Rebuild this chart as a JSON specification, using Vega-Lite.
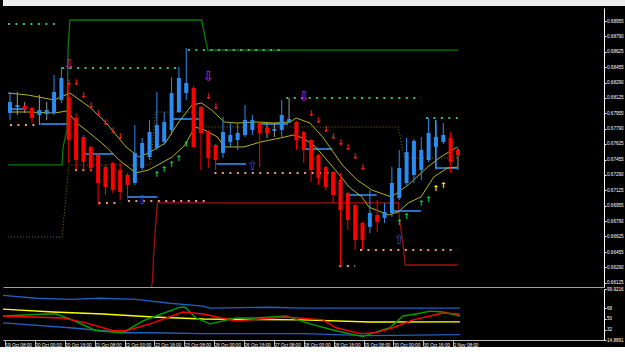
{
"$schema": "https://vega.github.io/schema/vega-lite/v6.json",
"background": "#000000",
"padding": 0,
"spacing": 2,
"bounds": "flush",
"config": {"view": {"stroke": null}, "font": "Liberation Sans", "axis": {"labelFont": "Liberation Sans", "grid": false}, "text": {"font": "Liberation Sans"}},
"datasets": {
"candles": [
{"i":0,"o":0.6796,"h":0.68187,"l":0.67884,"c":0.68079},
{"i":1,"o":0.68025,"h":0.68187,"l":0.67939,"c":0.68047},
{"i":2,"o":0.68036,"h":0.68079,"l":0.6796,"c":0.67993},
{"i":3,"o":0.68014,"h":0.68025,"l":0.67852,"c":0.67906},
{"i":4,"o":0.67939,"h":0.68155,"l":0.6783,"c":0.67993},
{"i":5,"o":0.67949,"h":0.68079,"l":0.67884,"c":0.67993},
{"i":6,"o":0.6796,"h":0.68371,"l":0.67939,"c":0.68187},
{"i":7,"o":0.68101,"h":0.68458,"l":0.68069,"c":0.68339},
{"i":8,"o":0.68133,"h":0.68285,"l":0.67419,"c":0.67668},
{"i":9,"o":0.67906,"h":0.6796,"l":0.67344,"c":0.67452},
{"i":10,"o":0.67701,"h":0.67722,"l":0.67344,"c":0.6743},
{"i":11,"o":0.67593,"h":0.67603,"l":0.67322,"c":0.67365},
{"i":12,"o":0.67506,"h":0.67528,"l":0.66965,"c":0.67202},
{"i":13,"o":0.67376,"h":0.67398,"l":0.67073,"c":0.6716},
{"i":14,"o":0.67419,"h":0.6743,"l":0.67095,"c":0.67127},
{"i":15,"o":0.67344,"h":0.67419,"l":0.67019,"c":0.67106},
{"i":16,"o":0.6729,"h":0.67311,"l":0.6703,"c":0.67182},
{"i":17,"o":0.67203,"h":0.6783,"l":0.67182,"c":0.67528},
{"i":18,"o":0.67365,"h":0.6769,"l":0.67344,"c":0.67636},
{"i":19,"o":0.67484,"h":0.67884,"l":0.67452,"c":0.67755},
{"i":20,"o":0.67582,"h":0.68187,"l":0.6756,"c":0.6783},
{"i":21,"o":0.67647,"h":0.67971,"l":0.67614,"c":0.67863},
{"i":22,"o":0.67776,"h":0.68349,"l":0.67722,"c":0.68176},
{"i":23,"o":0.67971,"h":0.68458,"l":0.6796,"c":0.68339},
{"i":24,"o":0.68176,"h":0.68663,"l":0.68101,"c":0.68285},
{"i":25,"o":0.6823,"h":0.68252,"l":0.67582,"c":0.67593},
{"i":26,"o":0.68025,"h":0.68036,"l":0.67344,"c":0.67744},
{"i":27,"o":0.67766,"h":0.67776,"l":0.67365,"c":0.67474},
{"i":28,"o":0.67614,"h":0.67625,"l":0.67344,"c":0.67452},
{"i":29,"o":0.67528,"h":0.67917,"l":0.67474,"c":0.67755},
{"i":30,"o":0.67647,"h":0.67863,"l":0.67593,"c":0.67722},
{"i":31,"o":0.67668,"h":0.67852,"l":0.6756,"c":0.67744},
{"i":32,"o":0.67722,"h":0.68047,"l":0.67701,"c":0.67884},
{"i":33,"o":0.67776,"h":0.67939,"l":0.67722,"c":0.67884},
{"i":34,"o":0.67852,"h":0.67863,"l":0.67376,"c":0.67744},
{"i":35,"o":0.67798,"h":0.67852,"l":0.6769,"c":0.67744},
{"i":36,"o":0.67766,"h":0.67852,"l":0.67701,"c":0.67787},
{"i":37,"o":0.67776,"h":0.68101,"l":0.67701,"c":0.67939},
{"i":38,"o":0.67863,"h":0.68122,"l":0.67852,"c":0.67895},
{"i":39,"o":0.67863,"h":0.67874,"l":0.6756,"c":0.67668},
{"i":40,"o":0.67755,"h":0.67766,"l":0.67419,"c":0.6756},
{"i":41,"o":0.67668,"h":0.67679,"l":0.67214,"c":0.67344},
{"i":42,"o":0.67506,"h":0.67517,"l":0.67182,"c":0.67257},
{"i":43,"o":0.67376,"h":0.67387,"l":0.67127,"c":0.6716},
{"i":44,"o":0.67322,"h":0.67333,"l":0.66987,"c":0.67073},
{"i":45,"o":0.67236,"h":0.67311,"l":0.66306,"c":0.66911},
{"i":46,"o":0.67095,"h":0.67106,"l":0.66695,"c":0.66803},
{"i":47,"o":0.66965,"h":0.66976,"l":0.66479,"c":0.66587},
{"i":48,"o":0.66771,"h":0.66782,"l":0.66479,"c":0.66587},
{"i":49,"o":0.66728,"h":0.67127,"l":0.66662,"c":0.66879},
{"i":50,"o":0.66857,"h":0.67019,"l":0.66673,"c":0.66782},
{"i":51,"o":0.66825,"h":0.66987,"l":0.66771,"c":0.6689},
{"i":52,"o":0.66879,"h":0.67376,"l":0.66836,"c":0.67203},
{"i":53,"o":0.67041,"h":0.6756,"l":0.67019,"c":0.67365},
{"i":54,"o":0.67203,"h":0.6769,"l":0.67182,"c":0.67538},
{"i":55,"o":0.6729,"h":0.67679,"l":0.67203,"c":0.67658},
{"i":56,"o":0.67344,"h":0.67701,"l":0.67236,"c":0.6756},
{"i":57,"o":0.67452,"h":0.67906,"l":0.6743,"c":0.67744},
{"i":58,"o":0.67593,"h":0.67852,"l":0.67344,"c":0.67701},
{"i":59,"o":0.67647,"h":0.67852,"l":0.67625,"c":0.67722},
{"i":60,"o":0.6769,"h":0.67755,"l":0.67311,"c":0.6743},
{"i":61,"o":0.6756,"h":0.67582,"l":0.67344,"c":0.67504}
],
"ma": [
{"s":"a","i":-0.27,"p":0.68176},{"s":"a","i":2.41,"p":0.68155},{"s":"a","i":6.02,"p":0.68101},{"s":"a","i":8.17,"p":0.68176},{"s":"a","i":10.84,"p":0.68025},{"s":"a","i":13.12,"p":0.67852},{"s":"a","i":15.8,"p":0.67593},{"s":"a","i":17.54,"p":0.67484},{"s":"a","i":18.88,"p":0.67528},{"s":"a","i":21.15,"p":0.67636},{"s":"a","i":22.89,"p":0.67852},{"s":"a","i":24.77,"p":0.68047},{"s":"a","i":26.1,"p":0.68068},{"s":"a","i":27.44,"p":0.67993},{"s":"a","i":29.18,"p":0.67863},{"s":"a","i":30.92,"p":0.67852},{"s":"a","i":33.6,"p":0.67863},{"s":"a","i":35.88,"p":0.67852},{"s":"a","i":38.15,"p":0.67863},{"s":"a","i":38.96,"p":0.67906},{"s":"a","i":40.83,"p":0.67852},{"s":"a","i":42.57,"p":0.67701},{"s":"a","i":45.25,"p":0.67398},{"s":"a","i":47.26,"p":0.67236},{"s":"a","i":49.26,"p":0.67127},{"s":"a","i":51.94,"p":0.67052},{"s":"a","i":54.22,"p":0.67182},{"s":"a","i":56.89,"p":0.67376},{"s":"a","i":58.63,"p":0.67484},{"s":"a","i":60.91,"p":0.67593},
{"s":"b","i":-0.27,"p":0.67971},{"s":"b","i":2.41,"p":0.67971},{"s":"b","i":6.02,"p":0.6796},{"s":"b","i":7.76,"p":0.67982},{"s":"b","i":9.1,"p":0.67852},{"s":"b","i":10.84,"p":0.67744},{"s":"b","i":13.12,"p":0.67593},{"s":"b","i":14.86,"p":0.67452},{"s":"b","i":17.14,"p":0.67311},{"s":"b","i":18.88,"p":0.67344},{"s":"b","i":22.09,"p":0.67484},{"s":"b","i":23.83,"p":0.67614},{"s":"b","i":25.17,"p":0.67809},{"s":"b","i":26.51,"p":0.67776},{"s":"b","i":28.25,"p":0.67701},{"s":"b","i":29.18,"p":0.67593},{"s":"b","i":31.86,"p":0.67593},{"s":"b","i":34.14,"p":0.67647},{"s":"b","i":36.81,"p":0.6769},{"s":"b","i":38.55,"p":0.67722},{"s":"b","i":39.89,"p":0.6769},{"s":"b","i":41.63,"p":0.67593},{"s":"b","i":44.31,"p":0.67344},{"s":"b","i":46.18,"p":0.6716},{"s":"b","i":47.92,"p":0.67052},{"s":"b","i":48.86,"p":0.66944},{"s":"b","i":51.54,"p":0.66857},{"s":"b","i":52.88,"p":0.6689},{"s":"b","i":54.22,"p":0.66987},{"s":"b","i":55.96,"p":0.67052},{"s":"b","i":57.7,"p":0.67268},{"s":"b","i":59.57,"p":0.67365},{"s":"b","i":60.91,"p":0.67376}
],
"channel": [
{"s":"grn","i":-0.27,"p":0.67398},{"s":"grn","i":7.1,"p":0.67398},{"s":"grn","i":7.23,"p":0.67593},{"s":"grn","i":7.76,"p":0.67776},{"s":"grn","i":7.9,"p":0.68641},{"s":"grn","i":8.17,"p":0.68966},{"s":"grn","i":26.1,"p":0.68966},{"s":"grn","i":26.91,"p":0.68641},{"s":"grn","i":61.04,"p":0.68641},
{"s":"red","i":19.28,"p":0.66078},{"s":"red","i":19.41,"p":0.66154},{"s":"red","i":19.54,"p":0.66403},{"s":"red","i":19.81,"p":0.66727},{"s":"red","i":20.08,"p":0.66987},{"s":"red","i":52.88,"p":0.66987},{"s":"red","i":53.01,"p":0.66836},{"s":"red","i":53.55,"p":0.66511},{"s":"red","i":53.82,"p":0.66316},{"s":"red","i":60.91,"p":0.66316},
{"s":"brn","i":-0.27,"p":0.66619},{"s":"brn","i":7.1,"p":0.66619},{"s":"brn","i":8.03,"p":0.67398},{"s":"brn","i":19.14,"p":0.67398},{"s":"brn","i":19.81,"p":0.67971},{"s":"brn","i":25.57,"p":0.67971},{"s":"brn","i":26.51,"p":0.67809},{"s":"brn","i":52.88,"p":0.67809},{"s":"brn","i":53.68,"p":0.67474},{"s":"brn","i":61.04,"p":0.67474}
],
"dots": [
{"t":"r","i":-0.27,"i2":6.16,"p":0.68923},{"t":"r","i":7.1,"i2":23.16,"p":0.68447},{"t":"r","i":24.23,"i2":36.95,"p":0.68641},{"t":"r","i":37.62,"i2":55.96,"p":0.68122},{"t":"r","i":56.63,"i2":61.04,"p":0.67906},
{"t":"s","i":0,"i2":3.35,"p":0.6783},{"t":"s","i":8.84,"i2":11.11,"p":0.67344},{"t":"s","i":12.05,"i2":15.13,"p":0.66987},{"t":"s","i":16.06,"i2":27.18,"p":0.67009},{"t":"s","i":27.84,"i2":43.91,"p":0.67311},{"t":"s","i":44.85,"i2":46.99,"p":0.66306},{"t":"s","i":47.66,"i2":60.91,"p":0.66479}
],
"stops": [
{"i":-0.27,"i2":2.14,"p":0.68003,"p2":0.68003},{"i":4.15,"i2":8.03,"p":0.67841,"p2":0.67841},{"i":10.04,"i2":14.06,"p":0.67517,"p2":0.67517},{"i":16.06,"i2":20.08,"p":0.67052,"p2":0.67052},{"i":22.22,"i2":26.1,"p":0.67895,"p2":0.67895},{"i":28.11,"i2":32.13,"p":0.67409,"p2":0.67409},{"i":34.14,"i2":37.88,"p":0.67841,"p2":0.67841},{"i":39.89,"i2":43.91,"p":0.67571,"p2":0.67571},{"i":45.92,"i2":49.93,"p":0.67073,"p2":0.67073},{"i":51.94,"i2":55.96,"p":0.669,"p2":0.669},{"i":57.97,"i2":60.91,"p":0.67365,"p2":0.67365},{"i":57.97,"i2":57.97,"p":0.67884,"p2":0.67365}
],
"arrows": [
{"k":"dn","i":8,"p":0.68285},{"k":"dn","i":9,"p":0.68285},{"k":"dn","i":10,"p":0.68144},{"k":"dn","i":11,"p":0.68036},{"k":"dn","i":12,"p":0.67949},{"k":"dn","i":13,"p":0.67852},{"k":"dn","i":14,"p":0.67766},{"k":"dn","i":15,"p":0.67701},{"k":"dn","i":27,"p":0.68133},{"k":"dn","i":28,"p":0.68025},{"k":"dn","i":41,"p":0.67949},{"k":"dn","i":42,"p":0.67874},{"k":"dn","i":43,"p":0.67776},{"k":"dn","i":44,"p":0.67701},{"k":"dn","i":45,"p":0.67636},{"k":"dn","i":46,"p":0.67582},{"k":"dn","i":47,"p":0.67484},{"k":"dn","i":48,"p":0.67365},
{"k":"up","i":20,"p":0.6729},{"k":"up","i":21,"p":0.67344},{"k":"up","i":22,"p":0.67398},{"k":"up","i":23,"p":0.67463},{"k":"up","i":24,"p":0.67614},{"k":"up","i":53,"p":0.66771},{"k":"up","i":54,"p":0.66836},{"k":"up","i":56,"p":0.66976},{"k":"up","i":57,"p":0.67019},
{"k":"upy","i":58,"p":0.67138},{"k":"upy","i":59,"p":0.67171},
{"k":"bigdn","i":8,"p":0.68479},{"k":"bigdn","i":27,"p":0.68349},{"k":"bigdn","i":40,"p":0.68133},
{"k":"bigup","i":18,"p":0.67019},{"k":"bigup","i":33,"p":0.67387},{"k":"bigup","i":53,"p":0.66587}
],
"levels": [
{"p":0.6875,"s":"dot"},{"p":0.685,"s":"dd"},{"p":0.6825,"s":"dot"},{"p":0.68,"s":"solid"},{"p":0.6775,"s":"dot"},{"p":0.675,"s":"dd"},{"p":0.6725,"s":"dot"},{"p":0.67,"s":"solid"},{"p":0.6675,"s":"dot"},{"p":0.665,"s":"dd"}
],
"last": [{"p":0.67504}],
"osclev": [{"v":68},{"v":50},{"v":32}],
"osc": [
{"s":"b1","i":-0.27,"v":89.3},{"s":"b1","i":4.15,"v":84.4},{"s":"b1","i":8.7,"v":82.7},{"s":"b1","i":12.72,"v":84.4},{"s":"b1","i":17.54,"v":82.7},{"s":"b1","i":22.09,"v":76.2},{"s":"b1","i":26.51,"v":71.3},{"s":"b1","i":27.44,"v":68.0},{"s":"b1","i":35.48,"v":69.6},{"s":"b1","i":39.89,"v":68.0},{"s":"b1","i":47.52,"v":68.0},{"s":"b1","i":60.91,"v":68.0},
{"s":"b2","i":-0.27,"v":43.5},{"s":"b2","i":8.7,"v":35.3},{"s":"b2","i":16.2,"v":27.1},{"s":"b2","i":19.81,"v":27.1},{"s":"b2","i":26.51,"v":25.5},{"s":"b2","i":39.89,"v":25.5},{"s":"b2","i":44.31,"v":23.8},{"s":"b2","i":48.86,"v":22.2},{"s":"b2","i":60.91,"v":23.8},
{"s":"s1","i":-0.27,"v":66.4},{"s":"s1","i":6.43,"v":61.5},{"s":"s1","i":13.12,"v":58.2},{"s":"s1","i":19.81,"v":53.3},{"s":"s1","i":26.51,"v":50.0},{"s":"s1","i":39.89,"v":48.4},{"s":"s1","i":48.86,"v":45.0},{"s":"s1","i":60.91,"v":45.1},
{"s":"s2","i":-0.27,"v":54.9},{"s":"s2","i":5.49,"v":58.2},{"s":"s2","i":6.83,"v":58.2},{"s":"s2","i":8.7,"v":50.0},{"s":"s2","i":12.18,"v":30.4},{"s":"s2","i":15.8,"v":27.1},{"s":"s2","i":18.47,"v":46.7},{"s":"s2","i":20.21,"v":54.9},{"s":"s2","i":23.43,"v":69.6},{"s":"s2","i":24.1,"v":69.6},{"s":"s2","i":25.57,"v":51.6},{"s":"s2","i":27.44,"v":41.8},{"s":"s2","i":30.92,"v":51.6},{"s":"s2","i":33.6,"v":51.6},{"s":"s2","i":37.62,"v":54.9},{"s":"s2","i":40.83,"v":41.8},{"s":"s2","i":44.31,"v":30.4},{"s":"s2","i":47.92,"v":20.5},{"s":"s2","i":50.2,"v":30.4},{"s":"s2","i":51.54,"v":35.3},{"s":"s2","i":53.28,"v":54.9},{"s":"s2","i":55.02,"v":58.2},{"s":"s2","i":56.89,"v":63.1},{"s":"s2","i":58.63,"v":61.5},{"s":"s2","i":60.91,"v":54.9},
{"s":"s3","i":-0.27,"v":54.9},{"s":"s3","i":7.76,"v":51.6},{"s":"s3","i":10.84,"v":43.5},{"s":"s3","i":14.46,"v":30.4},{"s":"s3","i":16.2,"v":30.4},{"s":"s3","i":19.81,"v":43.5},{"s":"s3","i":23.83,"v":61.5},{"s":"s3","i":26.51,"v":58.2},{"s":"s3","i":30.92,"v":46.7},{"s":"s3","i":37.62,"v":53.3},{"s":"s3","i":42.57,"v":48.4},{"s":"s3","i":44.31,"v":35.3},{"s":"s3","i":47.52,"v":25.5},{"s":"s3","i":49.67,"v":27.1},{"s":"s3","i":51.94,"v":35.3},{"s":"s3","i":54.62,"v":48.4},{"s":"s3","i":58.63,"v":59.8},{"s":"s3","i":60.91,"v":58.2}
]
},
"vconcat": [
{
"width": 625, "height": 6,
"view": {"fill": "#ececec", "stroke": null},
"data": {"values": []},
"mark": {"type": "rule"},
"encoding": {}
},
{
"width": 601, "height": 279,
"encoding": {
 "x": {"field": "i", "type": "quantitative", "title": null, "scale": {"domain": [-0.27, 80.2], "nice": false, "zero": false},
   "axis": {"labels": false, "ticks": false, "domain": true, "domainColor": "#a0a0a0", "grid": false}},
 "y": {"field": "p", "type": "quantitative", "title": null, "scale": {"domain": [0.66078, 0.69096], "nice": false, "zero": false},
   "axis": {"orient": "right", "values": [0.68955,0.6879,0.68625,0.68455,0.6829,0.68125,0.67955,0.6779,0.67625,0.67455,0.6729,0.67125,0.66955,0.6679,0.66625,0.66455,0.6629,0.66125], "format": ".5f", "labelOverlap": false, "tickSize": 2, "labelPadding": 0.5, "domainColor": "#ffffff", "tickColor": "#ffffff", "labelColor": "#ffffff", "labelFontSize": 4.6, "grid": false}}
},
"layer": [
 {"data": {"name": "levels"}, "mark": {"type": "rule", "color": "#8c8c8c", "strokeWidth": 1},
  "encoding": {"x": {"datum": 61.7}, "x2": {"datum": 80.1},
   "strokeDash": {"field": "s", "type": "nominal", "scale": {"domain": ["dot", "dd", "solid"], "range": [[1, 3], [6, 3, 1, 3], [1, 0]]}, "legend": null}}},
 {"data": {"name": "levels"}, "mark": {"type": "text", "color": "#a0a0a0", "fontSize": 4.6, "dy": 4, "baseline": "middle"},
  "encoding": {"x": {"datum": 68.7}, "text": {"field": "p", "type": "quantitative", "format": ".5f"}}},
 {"data": {"name": "last"}, "mark": {"type": "rule", "color": "#7a8898", "strokeWidth": 1},
  "encoding": {"x": {"datum": -0.27}, "x2": {"datum": 80.2}}},
 {"data": {"name": "channel"}, "transform": [{"filter": "datum.s == 'grn'"}], "mark": {"type": "line", "color": "#0a7a0a", "strokeWidth": 1.3}},
 {"data": {"name": "channel"}, "transform": [{"filter": "datum.s == 'red'"}], "mark": {"type": "line", "color": "#a01010", "strokeWidth": 1.3}},
 {"data": {"name": "channel"}, "transform": [{"filter": "datum.s == 'brn'"}], "mark": {"type": "line", "color": "#8a6a10", "strokeWidth": 1, "strokeDash": [1, 2]}},
 {"data": {"name": "dots"}, "transform": [{"filter": "datum.t == 'r'"}], "mark": {"type": "rule", "color": "#30c080", "strokeWidth": 2, "strokeDash": [2, 5.47]},
  "encoding": {"x2": {"field": "i2"}}},
 {"data": {"name": "dots"}, "transform": [{"filter": "datum.t == 's'"}], "mark": {"type": "rule", "color": "#f09a8a", "strokeWidth": 2, "strokeDash": [2, 5.47]},
  "encoding": {"x2": {"field": "i2"}}},
 {"data": {"name": "stops"}, "mark": {"type": "rule", "color": "#3399ff", "strokeWidth": 1.5},
  "encoding": {"x2": {"field": "i2"}, "y2": {"field": "p2"}}},
 {"data": {"name": "ma"}, "mark": {"type": "line", "color": "#b5b21e", "strokeWidth": 1},
  "encoding": {"detail": {"field": "s"}}},
 {"data": {"name": "candles"}, "mark": {"type": "rule", "strokeWidth": 1},
  "encoding": {"y": {"field": "l", "type": "quantitative", "title": null}, "y2": {"field": "h"},
   "color": {"condition": [{"test": "abs(datum.c - datum.o) < 0.0006", "value": "#9a9a9a"}, {"test": "datum.c >= datum.o", "value": "#2b8cf0"}], "value": "#ff0000"}}},
 {"data": {"name": "candles"}, "mark": {"type": "bar", "size": 4},
  "encoding": {"y": {"field": "o", "type": "quantitative", "title": null}, "y2": {"field": "c"},
   "color": {"condition": {"test": "datum.c >= datum.o", "value": "#2b8cf0"}, "value": "#ff0000"}}},
 {"data": {"name": "arrows"}, "transform": [{"filter": "datum.k == 'dn'"}], "mark": {"type": "text", "text": "↓", "font": "DejaVu Sans", "fontSize": 8, "fontWeight": "bold", "color": "#ff2020", "baseline": "middle"}},
 {"data": {"name": "arrows"}, "transform": [{"filter": "datum.k == 'up'"}], "mark": {"type": "text", "text": "↑", "font": "DejaVu Sans", "fontSize": 8, "fontWeight": "bold", "color": "#20d040", "baseline": "middle"}},
 {"data": {"name": "arrows"}, "transform": [{"filter": "datum.k == 'upy'"}], "mark": {"type": "text", "text": "↑", "font": "DejaVu Sans", "fontSize": 8, "fontWeight": "bold", "color": "#ffff20", "baseline": "middle"}},
 {"data": {"name": "arrows"}, "transform": [{"filter": "datum.k == 'bigdn'"}], "mark": {"type": "text", "text": "⇩", "font": "DejaVu Sans", "fontSize": 13, "color": "#e020e0", "baseline": "middle"}},
 {"data": {"name": "arrows"}, "transform": [{"filter": "datum.k == 'bigup'"}], "mark": {"type": "text", "text": "⇧", "font": "DejaVu Sans", "fontSize": 13, "color": "#2850d0", "baseline": "middle"}},
 {"data": {"name": "last"}, "mark": {"type": "rect", "color": "#ffffff"},
  "encoding": {"x": {"datum": 80.36}, "x2": {"datum": 82.9}, "y": {"datum": 0.67547}, "y2": {"datum": 0.67461}}},
 {"data": {"name": "last"}, "mark": {"type": "text", "color": "#000000", "fontSize": 4.6, "baseline": "middle"},
  "encoding": {"x": {"datum": 81.63}, "text": {"field": "p", "type": "quantitative", "format": ".5f"}}}
]
},
{
"width": 601, "height": 51,
"encoding": {
 "x": {"field": "i", "type": "quantitative", "title": null, "scale": {"domain": [-0.27, 80.2], "nice": false, "zero": false},
  "axis": {"values": [0,4,8,12,16,20,24,28,32,36,40,44,48,52,56,60],
   "labelExpr": "['19 Oct 08:00','20 Oct 00:00','20 Oct 16:00','21 Oct 08:00','22 Oct 00:00','22 Oct 16:00','23 Oct 08:00','26 Oct 00:00','26 Oct 16:00','27 Oct 08:00','28 Oct 00:00','28 Oct 16:00','29 Oct 08:00','30 Oct 00:00','30 Oct 16:00','2 Nov 08:00'][round(datum.value/4)]",
   "labelAlign": "left", "labelDx": 1, "tickSize": 6, "labelPadding": -4, "tickColor": "#c0c0c0", "domainColor": "#c0c0c0", "labelColor": "#ffffff", "labelFontSize": 4.6, "labelOverlap": false, "labelBound": false, "grid": false}},
 "y": {"field": "v", "type": "quantitative", "title": null, "scale": {"domain": [14.8891, 99.9216], "nice": false, "zero": false},
  "axis": {"orient": "right", "values": [14.8891, 32, 50, 68, 99.9216], "labelExpr": "'' + datum.value", "labelOverlap": false, "tickSize": 2, "labelPadding": 0.5, "domainColor": "#ffffff", "tickColor": "#ffffff", "labelColor": "#ffffff", "labelFontSize": 4.6, "grid": false}}
},
"layer": [
 {"data": {"name": "osclev"}, "mark": {"type": "rule", "color": "#808080", "strokeWidth": 1, "strokeDash": [1, 2]},
  "encoding": {"x": {"datum": -0.27}, "x2": {"datum": 80.2}}},
 {"data": {"name": "osc"}, "mark": {"type": "line", "strokeWidth": 1.4},
  "encoding": {"color": {"field": "s", "type": "nominal", "scale": {"domain": ["b1", "b2", "s1", "s2", "s3"], "range": ["#1f5fbf", "#1f5fbf", "#ffff00", "#00a000", "#ff0000"]}, "legend": null}}}
]
}
]
}
